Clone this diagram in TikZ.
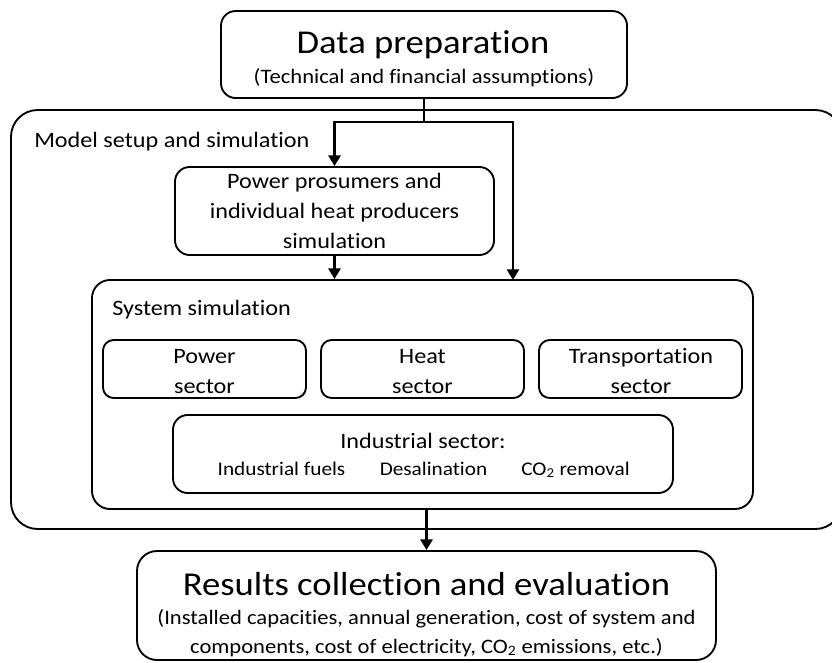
\documentclass[tikz,border=0pt]{standalone}
\usepackage{fontspec}
\setmainfont{Carlito}[FakeStretch=1.1, Ligatures=NoCommon]
\usetikzlibrary{arrows.meta}
\begin{document}
\begin{tikzpicture}[x=0.75pt,y=-0.75pt,
  box/.style={draw, line width=1.4pt, rounded corners=#1, inner sep=0pt},
  lbl/.style={inner sep=0pt, anchor=base},
  lblw/.style={inner sep=0pt, anchor=base west},
  fmid/.style={font=\fontsize{16.5}{20}\selectfont},
  fsub/.style={font=\fontsize{15.4}{18}\selectfont},
  fsmall/.style={font=\fontsize{14.5}{17}\selectfont},
  fbig/.style={font=\fontsize{25}{30}\selectfont},
  conn/.style={line width=2pt},
  arr/.style={line width=2pt, -{Triangle[length=8pt,width=9pt]}}]
\useasboundingbox (0,0) rectangle (832,662);

% boxes
\node[box=11pt, minimum width=304.5pt, minimum height=65.25pt] (dp) at (424,54.5) {};
\node[box=20pt, minimum width=623.25pt, minimum height=314.25pt] (ms) at (426.5,319.5) {};
\node[box=11pt, minimum width=239.25pt, minimum height=66pt] (pp) at (334.5,211) {};
\node[box=13.5pt, minimum width=495.75pt, minimum height=171.75pt] (ss) at (422.5,394.5) {};
\node[box=8pt, minimum width=152.25pt, minimum height=43.5pt] (pw) at (204.5,369) {};
\node[box=8pt, minimum width=152.25pt, minimum height=43.5pt] (ht) at (422.5,369) {};
\node[box=8pt, minimum width=152.25pt, minimum height=43.5pt] (tr) at (640.5,369) {};
\node[box=11pt, minimum width=375pt, minimum height=58.5pt] (in) at (423,454) {};
\node[box=15pt, minimum width=434.25pt, minimum height=81.75pt] (rs) at (426.5,605.5) {};

% texts
\node[lbl, fbig] (dpt) at (423,53) {Data preparation};
\node[lbl, fsub] (dps) at (424,83) {(Technical and financial assumptions)};
\node[lblw, fmid] (mst) at (34,147) {Model setup and simulation};
\node[lbl, fmid] (pp1) at (334.5,188) {Power prosumers and};
\node[lbl, fmid] (pp2) at (334.5,218) {individual heat producers};
\node[lbl, fmid] (pp3) at (334.5,248) {simulation};
\node[lblw, fmid] (sst) at (112,315) {System simulation};
\node[lbl, fmid] (pw1) at (204.5,363) {Power};
\node[lbl, fmid] (pw2) at (204.5,393) {sector};
\node[lbl, fmid] (ht1) at (422.5,363) {Heat};
\node[lbl, fmid] (ht2) at (422.5,393) {sector};
\node[lbl, fmid] (tr1) at (641,363) {Transportation};
\node[lbl, fmid] (tr2) at (641,393) {sector};
\node[lbl, fmid] (in1) at (423,448) {Industrial sector:};
\node[lbl, fsmall] (in2) at (281.5,475) {Industrial fuels};
\node[lbl, fsmall] (in3) at (433.5,475) {Desalination};
\node[lbl, fsmall] (in4) at (575.5,475) {CO\textsubscript{2} removal};
\node[lbl, fbig] (rs1) at (426.5,595) {Results collection and evaluation};
\node[lbl, fsub] (rs2) at (426.5,624) {(Installed capacities, annual generation, cost of system and};
\node[lbl, fsub] (rs3) at (426.5,653) {components, cost of electricity, CO\textsubscript{2} emissions, etc.)};

% connectors
\coordinate (j) at (424,122);
\coordinate (jr) at (513,280);
\draw[conn] (dp.south) -- (j);
\draw[arr] (j) -| (pp.north);
\draw[arr] (j) -| (jr);
\draw[arr] (pp.south) -- (pp.south |- ss.north);
\draw[arr] (ss.south -| rs.north) -- (rs.north);
\end{tikzpicture}
\end{document}
